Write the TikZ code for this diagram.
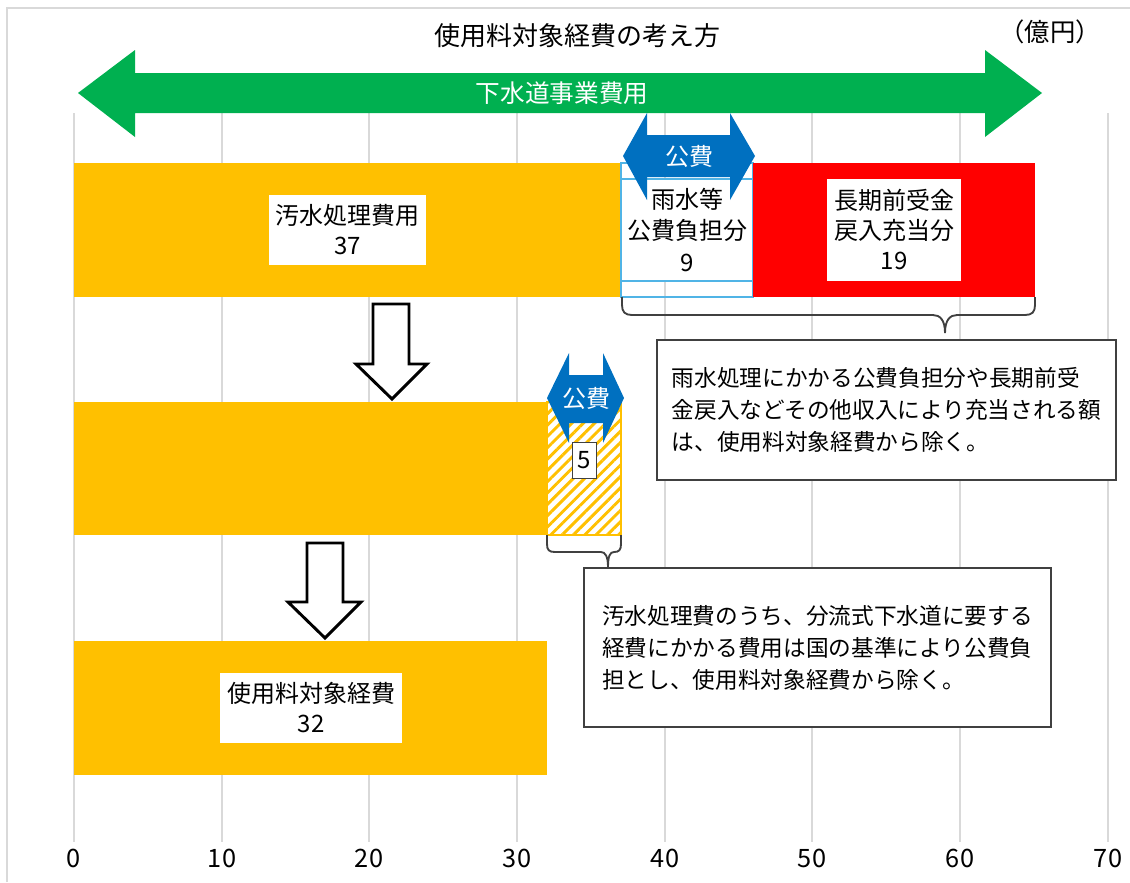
\documentclass[tikz,border=0pt]{standalone}
\usepackage{fontspec}
\setmainfont{Noto Sans CJK JP}
\usetikzlibrary{patterns.meta}

\definecolor{barorange}{RGB}{255,192,0}
\definecolor{barred}{RGB}{255,0,0}
\definecolor{arrowgreen}{RGB}{0,176,80}
\definecolor{arrowblue}{RGB}{0,112,192}
\definecolor{boxblue}{RGB}{80,180,230}
\definecolor{gridgray}{RGB}{217,217,217}
\definecolor{notegray}{RGB}{64,64,64}

\tikzset{every picture/.style={line width=0.75pt}}
\tikzset{
	gridline/.style={draw=gridgray, line width=1pt},
	barfill/.style={fill=barorange, draw=none},
	lbl/.style={fill=white, inner sep=0pt, align=center, font=\fontsize{18}{22.5}\selectfont},
	note/.style={draw=notegray, line width=1.2pt, fill=white, inner sep=0pt, align=left, font=\fontsize{17}{24}\selectfont},
	ticklbl/.style={font=\fontsize{19}{19}\selectfont},
	hollowarrow/.style={draw=black, line width=2.2pt, fill=white, line join=miter},
	bracepath/.style={draw=notegray, line width=1.4pt}
}

\begin{document}
\begin{tikzpicture}[x=0.75pt,y=0.75pt,yscale=-1,xscale=1]
	\useasboundingbox (0,0) rectangle (1130,882);

	%Straight Lines [frame]
	\draw [draw=gridgray, line width=1pt] (7,882) -- (7,8) -- (1130,8) ;

	%Straight Lines [grid]
	\draw [gridline] (74,113) -- (74,842) ;
	\draw [gridline] (222,113) -- (222,842) ;
	\draw [gridline] (369,113) -- (369,842) ;
	\draw [gridline] (517,113) -- (517,842) ;
	\draw [gridline] (665,113) -- (665,842) ;
	\draw [gridline] (812,113) -- (812,842) ;
	\draw [gridline] (960,113) -- (960,842) ;
	\draw [gridline] (1108,113) -- (1108,842) ;

	%Shape: Rectangle [sewage cost]
	\draw [barfill] (74,163) rectangle (621,297) ;
	%Shape: Rectangle [rain water share]
	\draw [draw=boxblue, line width=1pt] (621,163) rectangle (753,297) ;
	\draw [draw=boxblue, line width=1pt, fill=white] (621,179) rectangle (753,281) ;
	%Shape: Rectangle [long term income]
	\draw [fill=barred, draw=none] (753,163) rectangle (1035,297) ;

	%Shape: Rectangle [after rain water]
	\draw [barfill] (74,402) rectangle (547,535) ;
	%Shape: Rectangle [separate sewer share]
	\draw [draw=barorange, line width=1pt, fill=white] (547,402) rectangle (621,535) ;
	\fill [pattern={Lines[angle=45, distance=6pt, line width=2.2pt]}, pattern color=barorange] (547,402) rectangle (621,535) ;

	%Shape: Rectangle [fee target]
	\draw [barfill] (74,641) rectangle (547,775) ;

	%Shape: Double Arrow [sewer business]
	\draw [fill=arrowgreen, draw=none] (78,93) -- (135,50) -- (135,73) -- (985,73) -- (985,50) -- (1042,93) -- (985,137) -- (985,113) -- (135,113) -- (135,137) -- cycle ;
	%Shape: Double Arrow [public 1]
	\draw [fill=arrowblue, draw=none] (623,156) -- (647,113) -- (647,135) -- (730,135) -- (730,113) -- (755,156) -- (730,200) -- (730,177) -- (647,177) -- (647,200) -- cycle ;
	%Shape: Double Arrow [public 2]
	\draw [fill=arrowblue, draw=none] (547,398) -- (569,353) -- (569,375) -- (603,375) -- (603,353) -- (624,398) -- (603,443) -- (603,423) -- (569,423) -- (569,443) -- cycle ;

	%Shape: Down Arrow [step 1]
	\draw [hollowarrow] (373,304) -- (409,304) -- (409,364) -- (427,364) -- (392,399) -- (356,364) -- (373,364) -- cycle ;
	%Shape: Down Arrow [step 2]
	\draw [hollowarrow] (307,543) -- (343,543) -- (343,602) -- (361,602) -- (325,638) -- (288,602) -- (307,602) -- cycle ;

	%Curve Lines [brace 1]
	\draw [bracepath] (622,297) -- (622,305) .. controls (622,312) and (625,315) .. (632,315) -- (933,315) .. controls (940,315) and (945,320) .. (945,333) .. controls (945,320) and (950,315) .. (957,315) -- (1025,315) .. controls (1032,315) and (1035,312) .. (1035,305) -- (1035,297) ;
	%Curve Lines [brace 2]
	\draw [bracepath] (547,535) -- (547,544) .. controls (547,550) and (549,552) .. (555,552) -- (601,552) .. controls (605,552) and (608,556) .. (608,567) .. controls (608,556) and (610,552) .. (614,552) .. controls (619,552) and (621,550) .. (621,544) -- (621,535) ;

	% Text Node
	\node [font=\fontsize{19.5}{19.5}\selectfont] (title) at (577,36) {使用料対象経費の考え方};
	% Text Node
	\node [font=\fontsize{19}{19}\selectfont] (unit) at (1050,32) {（億円）};
	% Text Node
	\node [font=\fontsize{18.5}{18.5}\selectfont, text=white] (sewerbiz) at (562,93) {下水道事業費用};
	% Text Node
	\node [font=\fontsize{18}{18}\selectfont, text=white] (pubA) at (689,156) {公費};
	% Text Node
	\node [font=\fontsize{18}{18}\selectfont, text=white] (pubB) at (586,398) {公費};

	% Text Node
	\node [lbl, minimum width=117.75pt, minimum height=52.5pt] (sewage) at (347.5,230) {汚水処理費用\\37};
	% Text Node
	\node [inner sep=0pt, align=center, font=\fontsize{18}{23.5}\selectfont] (rain) at (687,230) {雨水等\\公費負担分\\9};
	% Text Node
	\node [lbl, minimum width=100.5pt, minimum height=76.5pt] (longterm) at (894,230) {長期前受金\\戻入充当分\\19};
	% Text Node
	\node [lbl, draw=notegray, line width=0.6pt, minimum width=18pt, minimum height=27pt] (sep) at (584,460) {5};
	% Text Node
	\node [lbl, minimum width=136.5pt, minimum height=52.5pt] (target) at (311,708) {使用料対象経費\\32};

	% Text Node
	\node [note, minimum width=344.25pt, minimum height=105pt] (noteA) at (886.5,410) {雨水処理にかかる公費負担分や長期前受\\金戻入などその他収入により充当される額\\は、使用料対象経費から除く。};
	% Text Node
	\node [note, minimum width=350.25pt, minimum height=119.25pt] (noteB) at (817.5,647.5) {汚水処理費のうち、分流式下水道に要する\\経費にかかる費用は国の基準により公費負\\担とし、使用料対象経費から除く。};

	% Text Node
	\node [ticklbl] (tick0) at (74,858) {0};
	\node [ticklbl] (tick10) at (222,858) {10};
	\node [ticklbl] (tick20) at (369,858) {20};
	\node [ticklbl] (tick30) at (517,858) {30};
	\node [ticklbl] (tick40) at (665,858) {40};
	\node [ticklbl] (tick50) at (812,858) {50};
	\node [ticklbl] (tick60) at (960,858) {60};
	\node [ticklbl] (tick70) at (1108,858) {70};

\end{tikzpicture}
\end{document}
